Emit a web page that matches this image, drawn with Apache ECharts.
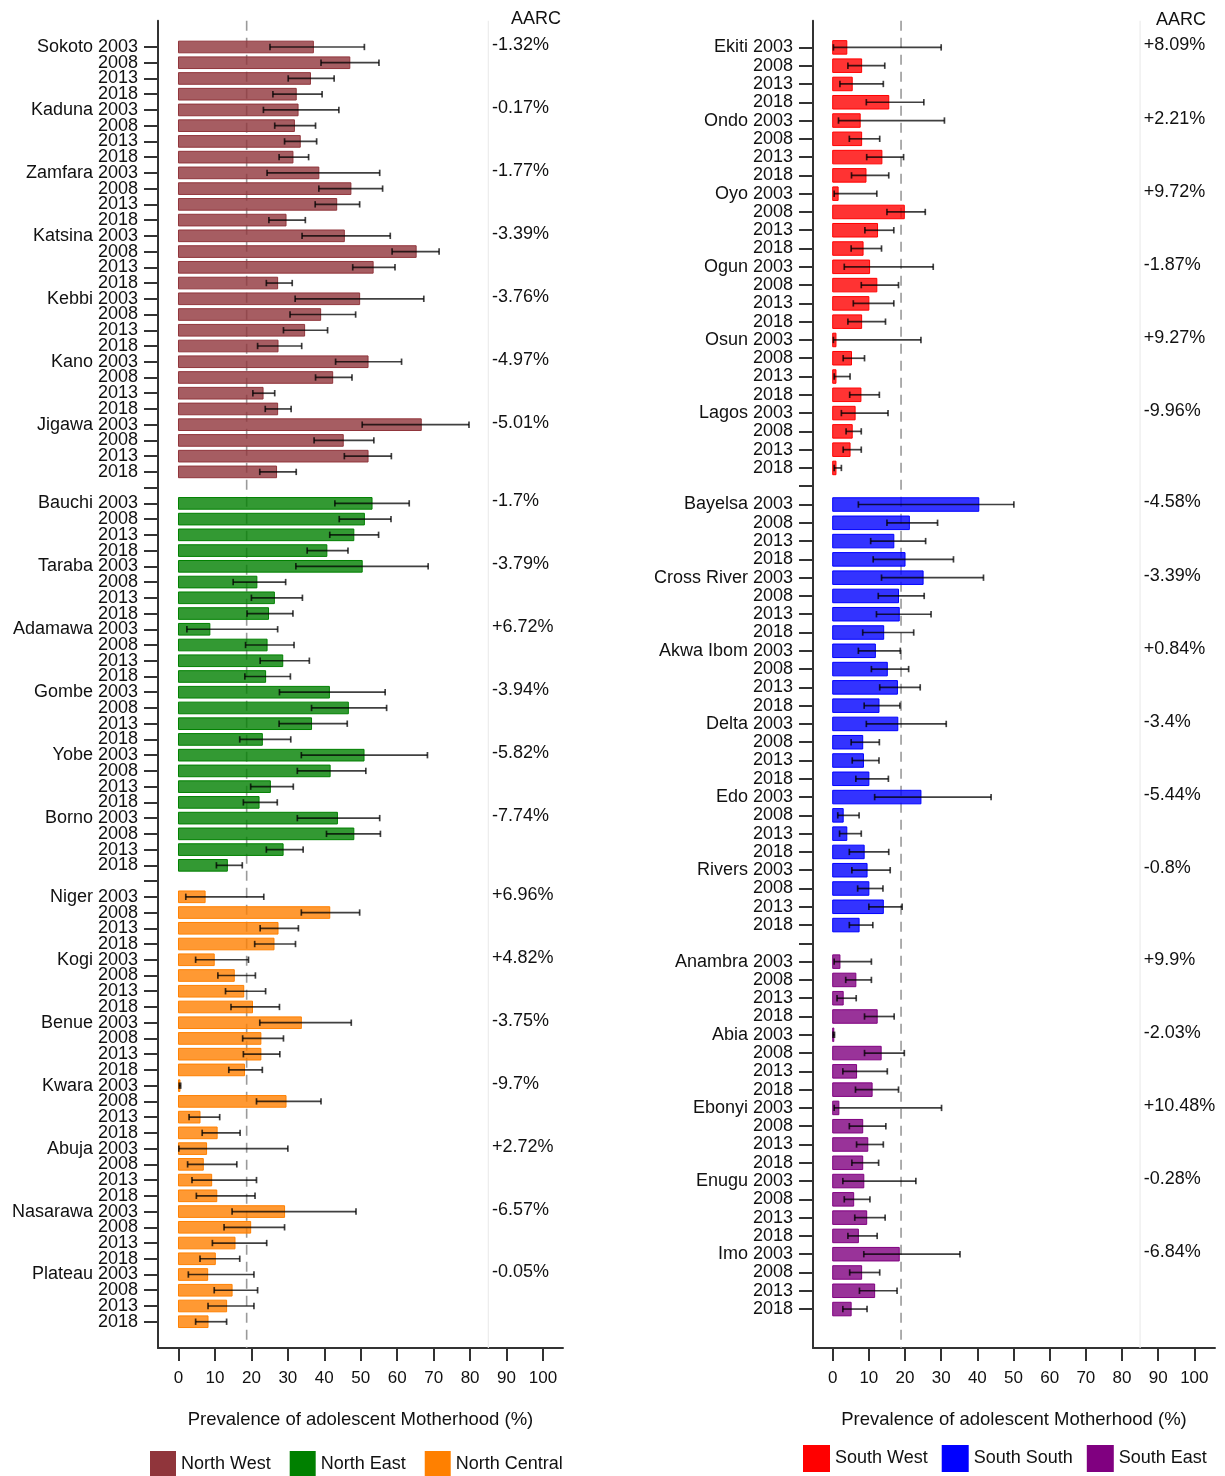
<!DOCTYPE html>
<html><head><meta charset="utf-8">
<script src="https://cdn.jsdelivr.net/npm/echarts@6/dist/echarts.min.js"></script>
<style>html,body{margin:0;padding:0;background:#fff}#c{width:1225px;height:1476px}</style>
</head><body><div id="c"></div><script>
// ---------- DATA ----------
const years = ['2003', '2008', '2013', '2018'];
const xTicks = [0, 10, 20, 30, 40, 50, 60, 70, 80, 90, 100];

const nwStates = ['Sokoto', 'Kaduna', 'Zamfara', 'Katsina', 'Kebbi', 'Kano', 'Jigawa'];
const nwPrev = [37.0, 47.0, 36.2, 32.3, 32.8, 31.8, 33.4, 31.4, 38.5, 47.3, 43.4, 29.5, 45.5, 65.2, 53.4, 27.2,
  49.7, 39.0, 34.6, 27.3, 52.0, 42.3, 23.2, 27.2, 66.6, 45.2, 52.0, 26.9];
const nwLow = [25.1, 39.1, 30.1, 25.9, 23.3, 26.4, 29.1, 27.6, 24.3, 38.5, 37.5, 24.8, 33.9, 58.6, 47.8, 24.1,
  32.0, 30.6, 28.8, 21.7, 43.1, 37.6, 20.4, 23.8, 50.4, 37.2, 45.5, 22.3];
const nwHigh = [51.0, 55.0, 42.7, 39.4, 44.0, 37.6, 37.9, 35.7, 55.2, 56.0, 49.7, 34.8, 58.1, 71.5, 59.4, 31.2,
  67.3, 48.6, 40.9, 33.8, 61.2, 47.6, 26.4, 30.9, 79.7, 53.6, 58.4, 32.3];
const nwAarc = ['-1.32%', '-0.17%', '-1.77%', '-3.39%', '-3.76%', '-4.97%', '-5.01%'];

const neStates = ['Bauchi', 'Taraba', 'Adamawa', 'Gombe', 'Yobe', 'Borno'];
const nePrev = [53.1, 51.0, 48.1, 40.7, 50.4, 21.5, 26.3, 24.7, 8.6, 24.3, 28.6, 23.9, 41.4, 46.6, 36.5, 23.0,
  50.9, 41.6, 25.2, 22.1, 43.6, 48.1, 28.7, 13.4];
const neLow = [42.9, 44.1, 41.5, 35.3, 32.2, 15.0, 20.0, 18.8, 2.3, 18.4, 22.4, 18.2, 27.7, 36.5, 27.6, 16.8,
  33.7, 32.6, 19.8, 17.8, 32.6, 40.6, 24.1, 10.4];
const neHigh = [63.3, 58.3, 54.9, 46.5, 68.5, 29.4, 34.0, 31.4, 27.2, 31.7, 35.9, 30.7, 56.7, 57.1, 46.3, 30.8,
  68.3, 51.4, 31.5, 27.1, 55.2, 55.4, 34.2, 17.5];
const neAarc = ['-1.7%', '-3.79%', '+6.72%', '-3.94%', '-5.82%', '-7.74%'];

const ncStates = ['Niger', 'Kogi', 'Benue', 'Kwara', 'Abuja', 'Nasarawa', 'Plateau'];
const ncPrev = [7.3, 41.5, 27.3, 26.2, 9.8, 15.3, 17.9, 20.3, 33.7, 22.6, 22.6, 18.1, 0.4, 29.5, 5.9, 10.6,
  7.7, 6.8, 9.1, 10.5, 29.1, 19.8, 15.5, 10.1, 8.0, 14.7, 13.2, 8.1];
const ncLow = [2.0, 33.7, 22.4, 20.9, 4.7, 10.8, 12.9, 14.4, 22.3, 17.6, 17.8, 13.8, 0.2, 21.4, 2.9, 6.5,
  0.1, 2.5, 3.7, 4.9, 14.7, 12.5, 9.3, 5.9, 2.7, 9.8, 8.1, 4.7];
const ncHigh = [23.4, 49.7, 32.9, 32.1, 19.2, 21.1, 23.9, 27.7, 47.4, 28.8, 27.8, 23.0, 0.6, 39.1, 11.3, 16.9,
  30.0, 16.0, 21.4, 21.0, 48.7, 29.1, 24.2, 16.8, 20.7, 21.7, 20.7, 13.2];
const ncAarc = ['+6.96%', '+4.82%', '-3.75%', '-9.7%', '+2.72%', '-6.57%', '-0.05%'];

const swStates = ['Ekiti', 'Ondo', 'Oyo', 'Ogun', 'Osun', 'Lagos'];
const swPrev = [3.9, 8.0, 5.4, 15.5, 7.6, 8.0, 13.6, 9.2, 1.5, 19.8, 12.4, 8.4, 10.2, 12.2, 10.0, 8.0,
  0.9, 5.2, 0.9, 7.8, 6.2, 5.4, 4.8, 0.9];
const swLow = [0.2, 4.2, 2.0, 9.3, 1.6, 4.6, 9.4, 5.2, 0.4, 15.0, 8.9, 5.1, 3.2, 7.9, 5.7, 4.2,
  0.2, 2.9, 0.4, 4.7, 2.4, 3.7, 2.9, 0.4];
const swHigh = [30.0, 14.4, 14.0, 25.2, 30.9, 13.0, 19.6, 15.5, 12.2, 25.6, 16.9, 13.5, 27.8, 18.2, 16.9, 14.6,
  24.4, 8.8, 4.8, 12.9, 15.3, 7.9, 7.9, 2.4];
const swAarc = ['+8.09%', '+2.21%', '+9.72%', '-1.87%', '+9.27%', '-9.96%'];

const ssStates = ['Bayelsa', 'Cross River', 'Akwa Ibom', 'Delta', 'Edo', 'Rivers'];
const ssPrev = [40.4, 21.2, 16.9, 20.0, 25.0, 18.2, 18.4, 14.1, 11.8, 15.1, 17.9, 12.8, 18.0, 8.3, 8.5, 10.0,
  24.4, 2.9, 3.9, 8.7, 9.5, 10.0, 14.0, 7.3];
const ssLow = [7.1, 15.0, 10.5, 11.2, 13.5, 12.6, 12.1, 8.3, 7.1, 10.7, 13.0, 8.7, 9.3, 5.1, 5.4, 6.4,
  11.6, 1.4, 1.9, 4.6, 5.3, 6.9, 10.0, 4.6];
const ssHigh = [50.1, 29.0, 25.7, 33.4, 41.7, 25.3, 27.2, 22.4, 18.7, 21.0, 24.2, 18.6, 31.4, 12.9, 12.8, 15.4,
  43.8, 7.3, 7.9, 15.5, 15.9, 13.9, 19.2, 11.1];
const ssAarc = ['-4.58%', '-3.39%', '+0.84%', '-3.4%', '-5.44%', '-0.8%'];

const seStates = ['Anambra', 'Abia', 'Ebonyi', 'Enugu', 'Imo'];
const sePrev = [2.0, 6.4, 2.9, 12.3, 0.3, 13.4, 6.6, 10.9, 1.7, 8.3, 9.7, 8.3, 8.6, 5.8, 9.4, 7.1,
  18.4, 8.0, 11.6, 5.1];
const seLow = [0.4, 3.6, 1.2, 8.8, 0.1, 8.8, 2.8, 6.3, 0.4, 4.6, 6.6, 5.3, 2.8, 3.2, 6.1, 4.2,
  8.6, 4.7, 7.4, 2.8];
const seHigh = [10.7, 10.7, 6.5, 17.0, 0.5, 19.8, 15.1, 18.2, 30.1, 14.7, 14.0, 12.7, 23.0, 10.3, 14.5, 12.3,
  35.2, 13.0, 17.8, 9.5];
const seAarc = ['+9.9%', '-2.03%', '+10.48%', '-0.28%', '-6.84%'];

const meanLeft = 18.7;
const meanRight = 18.9;
const aarcX = 86;

// ---------- BUILD ----------
const FONT = '"Liberation Sans", Arial, Helvetica, sans-serif';
const panels = [
  { regions: [
      { name: 'North West', states: nwStates, prev: nwPrev, low: nwLow, high: nwHigh, aarc: nwAarc, color: [144, 53, 59] },
      { name: 'North East', states: neStates, prev: nePrev, low: neLow, high: neHigh, aarc: neAarc, color: [0, 128, 0] },
      { name: 'North Central', states: ncStates, prev: ncPrev, low: ncLow, high: ncHigh, aarc: ncAarc, color: [255, 128, 0] }
    ], mean: meanLeft },
  { regions: [
      { name: 'South West', states: swStates, prev: swPrev, low: swLow, high: swHigh, aarc: swAarc, color: [255, 0, 0] },
      { name: 'South South', states: ssStates, prev: ssPrev, low: ssLow, high: ssHigh, aarc: ssAarc, color: [0, 0, 255] },
      { name: 'South East', states: seStates, prev: sePrev, low: seLow, high: seHigh, aarc: seAarc, color: [128, 0, 128] }
    ], mean: meanRight }
];

const series = [];
panels.forEach((p, pi) => {
  let row = 0;
  p.labels = [];
  p.errData = [];
  p.aarcData = [];
  p.aarcText = [];
  p.regions.forEach((r, ri) => {
    const barData = [];
    r.states.forEach((s, si) => {
      p.aarcData.push([aarcX, row]);
      p.aarcText.push(r.aarc[si]);
      years.forEach((y, yi) => {
        const k = si * 4 + yi;
        p.labels[row] = yi === 0 ? s + ' ' + y : y;
        barData.push([r.prev[k], row]);
        p.errData.push([r.low[k], r.high[k], row]);
        row++;
      });
    });
    if (ri < p.regions.length - 1) { p.labels[row] = ''; row++; }
    const c = r.color;
    const fill = `rgba(${c[0]},${c[1]},${c[2]},0.8)`;
    const stroke = `rgb(${c[0]},${c[1]},${c[2]})`;
    series.push({
      type: 'custom', name: r.name, xAxisIndex: pi, yAxisIndex: pi,
      itemStyle: { color: stroke }, encode: { x: 0, y: 1 }, z: 3,
      data: barData,
      renderItem: function (params, api) {
        const v = api.value(0), rr = api.value(1);
        const a = api.coord([0, rr]), b = api.coord([v, rr]);
        const h = api.size([0, 1])[1] * 0.74;
        return { type: 'rect', shape: { x: a[0], y: a[1] - h / 2, width: Math.max(b[0] - a[0], 1), height: h },
          style: { fill: fill, stroke: stroke, lineWidth: 1 } };
      }
    });
  });
  p.rowCount = row;
  // error bars
  series.push({
    type: 'custom', name: 'ci' + pi, xAxisIndex: pi, yAxisIndex: pi, z: 4,
    encode: { x: [0, 1], y: 2 }, data: p.errData,
    renderItem: function (params, api) {
      const lo = api.coord([api.value(0), api.value(2)]);
      const hi = api.coord([api.value(1), api.value(2)]);
      const cap = 3.2;
      const st = { stroke: 'rgba(0,0,0,0.75)', lineWidth: 1.7 };
      return { type: 'group', children: [
        { type: 'line', shape: { x1: lo[0], y1: lo[1], x2: hi[0], y2: hi[1] }, style: st },
        { type: 'line', shape: { x1: lo[0], y1: lo[1] - cap, x2: lo[0], y2: lo[1] + cap }, style: st },
        { type: 'line', shape: { x1: hi[0], y1: hi[1] - cap, x2: hi[0], y2: hi[1] + cap }, style: st }
      ] };
    }
  });
  // reference lines: mean (dashed) and AARC separator (light)
  series.push({
    type: 'custom', name: 'ref' + pi, xAxisIndex: pi, yAxisIndex: pi, z: 1,
    encode: { x: 0 }, data: [[p.mean, 0], [85, 1]],
    renderItem: function (params, api) {
      const cs = params.coordSys;
      const x = api.coord([api.value(0), 0])[0];
      const dashed = api.value(1) === 0;
      return { type: 'line', shape: { x1: x, y1: cs.y, x2: x, y2: cs.y + cs.height },
        style: dashed ? { stroke: '#9a9a9a', lineWidth: 1.6, lineDash: [10, 7] } : { stroke: '#ececec', lineWidth: 1.2 } };
    }
  });
  // AARC texts
  const texts = p.aarcText;
  series.push({
    type: 'custom', name: 'aarc' + pi, xAxisIndex: pi, yAxisIndex: pi, z: 5,
    encode: { x: 0, y: 1 }, data: p.aarcData,
    renderItem: function (params, api) {
      const pt = api.coord([api.value(0), api.value(1)]);
      return { type: 'text', x: pt[0], y: pt[1] - 2,
        style: { text: texts[params.dataIndex], fontSize: 18, fontFamily: FONT, fill: '#111', align: 'left', verticalAlign: 'middle' } };
    }
  });
});

const axisCol = '#333';
function xAxisCfg(gi, min, max) {
  return {
    type: 'value', gridIndex: gi, min: min, max: max,
    axisLine: { show: true, onZero: false, lineStyle: { color: axisCol, width: 2 } },
    axisTick: { show: true, length: 13, customValues: xTicks, lineStyle: { color: axisCol, width: 2 } },
    axisLabel: { customValues: xTicks, margin: 22, fontSize: 17, color: '#111', fontFamily: FONT },
    splitLine: { show: false },
    name: 'Prevalence of adolescent Motherhood (%)', nameLocation: 'middle', nameGap: 62,
    nameTextStyle: { fontSize: 18.5, color: '#111', fontFamily: FONT }
  };
}
function yAxisCfg(gi, min, max, p) {
  const idx = [];
  for (let i = 0; i < p.rowCount; i++) idx.push(i);
  const labels = p.labels;
  // spacer label positions at both ends keep the first/last real labels from being dropped
  const labelVals = [min + 0.05].concat(idx, [max - 0.05]);
  return {
    type: 'value', gridIndex: gi, inverse: true, min: min, max: max,
    axisLine: { show: true, onZero: false, lineStyle: { color: axisCol, width: 2 } },
    axisTick: { show: true, length: 14, customValues: idx, lineStyle: { color: axisCol, width: 2 } },
    axisLabel: { customValues: labelVals, margin: 20, fontSize: 18, color: '#111', fontFamily: FONT,
      showMinLabel: true, showMaxLabel: true, hideOverlap: false,
      formatter: function (v) {
        if (Math.abs(v - Math.round(v)) > 0.01) return ' ';
        return labels[Math.round(v)] || '';
      } },
    splitLine: { show: false }
  };
}

const option = {
  animation: false,
  backgroundColor: '#fff',
  textStyle: { fontFamily: FONT },
  grid: [
    { left: 158, top: 20.7, width: 405, height: 1327.3 },
    { left: 813, top: 20.7, width: 402, height: 1327.3 }
  ],
  xAxis: [xAxisCfg(0, -5.624, 105.49), xAxisCfg(1, -5.448, 105.72)],
  yAxis: [yAxisCfg(0, -1.67, 82.67, panels[0]), yAxisCfg(1, -1.46, 71.13, panels[1])],
  legend: [
    { data: ['North West', 'North East', 'North Central'], left: 150, top: 1451, padding: 0,
      itemWidth: 26, itemHeight: 26, itemGap: 19, icon: 'rect', selectedMode: false,
      textStyle: { fontSize: 18, color: '#111', fontFamily: FONT } },
    { data: ['South West', 'South South', 'South East'], left: 803, top: 1445, padding: 0,
      itemWidth: 27, itemHeight: 27, itemGap: 14, icon: 'rect', selectedMode: false,
      textStyle: { fontSize: 18, color: '#111', fontFamily: FONT } }
  ],
  graphic: [
    { type: 'text', left: 511, top: 10, style: { text: 'AARC', fontSize: 18, fontFamily: FONT, fill: '#111' } },
    { type: 'text', left: 1156, top: 11, style: { text: 'AARC', fontSize: 18, fontFamily: FONT, fill: '#111' } }
  ],
  series: series
};

const chart = echarts.init(document.getElementById('c'), null, { renderer: 'canvas' });
chart.setOption(option);
</script></body></html>
